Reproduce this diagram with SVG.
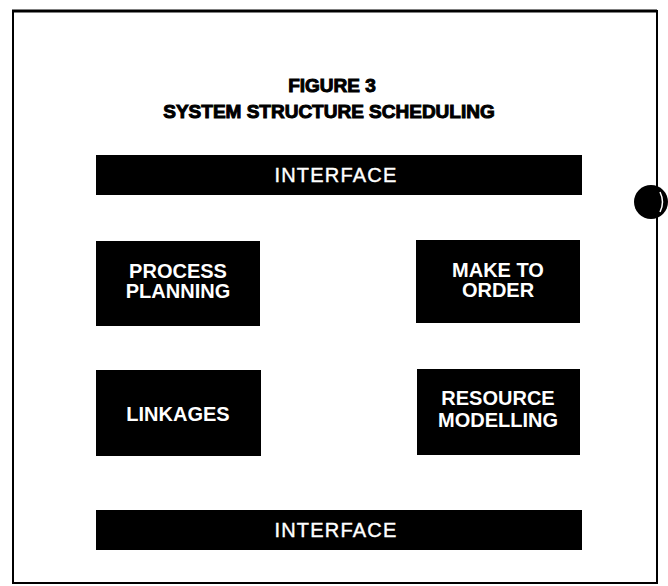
<svg xmlns="http://www.w3.org/2000/svg" width="668" height="586" viewBox="0 0 668 586">
<style>
.title{font-family:"Liberation Sans",Arial,sans-serif;font-size:19px;font-weight:bold;fill:#000;stroke:#000;stroke-width:1;text-anchor:middle}
.box{fill:#000}
.lbl{font-family:"Liberation Sans",Arial,sans-serif;font-size:20px;font-weight:bold;fill:#fff;text-anchor:middle}
.bar{font-family:"Liberation Sans",Arial,sans-serif;font-size:20px;fill:#fff;stroke:#fff;stroke-width:0.4;text-anchor:middle;letter-spacing:1.2px}
</style>
<rect width="668" height="586" fill="#fff"/>
<g id="frame" fill="none" stroke="#000">
<path d="M12 11 H657" stroke-width="3"/>
<path d="M13 10 V584" stroke-width="2"/>
<path d="M657 10 V584" stroke-width="2"/>
<path d="M12 583 H657" stroke-width="2"/>
</g>
<g id="title">
<text class="title" x="332" y="92">FIGURE 3</text>
<text class="title" x="329" y="118">SYSTEM STRUCTURE SCHEDULING</text>
</g>
<g id="interface-top">
<rect class="box" x="96" y="155" width="486" height="40"/>
<text class="bar" x="336" y="182">INTERFACE</text>
</g>
<g id="process-planning">
<rect class="box" x="96" y="241" width="164" height="85"/>
<text class="lbl" x="178" y="278">PROCESS</text>
<text class="lbl" x="178" y="298">PLANNING</text>
</g>
<g id="make-to-order">
<rect class="box" x="416" y="240" width="164" height="83"/>
<text class="lbl" x="498" y="277">MAKE TO</text>
<text class="lbl" x="498" y="297">ORDER</text>
</g>
<g id="linkages">
<rect class="box" x="96" y="370" width="165" height="86"/>
<text class="lbl" x="178" y="421">LINKAGES</text>
</g>
<g id="resource-modelling">
<rect class="box" x="417" y="369" width="163" height="86"/>
<text class="lbl" x="498" y="405">RESOURCE</text>
<text class="lbl" x="498" y="427">MODELLING</text>
</g>
<g id="interface-bottom">
<rect class="box" x="96" y="510" width="486" height="40"/>
<text class="bar" x="336" y="537">INTERFACE</text>
</g>
<g id="connectors"></g>
<g id="hole">
<circle cx="651" cy="202" r="17" fill="#000"/>
<path d="M660 192 Q665 202 660 212" fill="none" stroke="#fff" stroke-width="1.5"/>
</g>
</svg>
